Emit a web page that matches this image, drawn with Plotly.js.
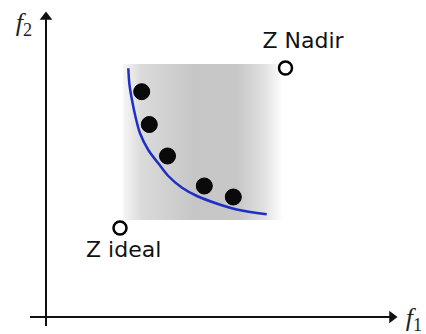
<!DOCTYPE html>
<html>
<head>
<meta charset="utf-8">
<script src="https://cdn.plot.ly/plotly-3.0.1.min.js"></script>
<style>html,body{margin:0;padding:0;background:#fff;}#chart{width:426px;height:334px;}</style>
</head>
<body>
<div id="chart"></div>
<script>
// Objective-space diagram values (f1, f2)
const frontF1 = [8.23, 8.35, 8.6, 8.95, 9.4, 10.23, 11.23, 12.23, 13.57, 15.1, 17.2, 19.07, 22.07];
const frontF2 = [24.87, 23.2, 21.7, 20.03, 18.37, 16.7, 15.37, 14.1, 12.95, 12.1, 11.3, 10.75, 10.27];
const solF1 = [9.57, 10.33, 12.15, 15.83, 18.73];
const solF2 = [22.53, 19.25, 16.1, 13.1, 12.0];
const refNames = ["Z Nadir", "Z ideal"];
const refF1 = [23.95, 7.4];
const refF2 = [24.9, 8.9];
const refLabelF1 = [25.7, 7.77];
const refLabelF2 = [27.5, 6.53];
const regionF1 = [7.7, 23.7];
const regionF2 = [9.7, 25.3];
const axisLabels = ["<i>f</i><sub>1</sub>", "<i>f</i><sub>2</sub>"];
const axisLabelF1 = [36.8, -2.2];
const axisLabelF2 = [-0.2, 29.3];

const traces = [
  {
    x: [regionF1[0], regionF1[1], regionF1[1], regionF1[0], regionF1[0]],
    y: [regionF2[0], regionF2[0], regionF2[1], regionF2[1], regionF2[0]],
    mode: 'lines', line: {width: 0}, fill: 'toself',
    fillgradient: {type: 'horizontal', start: regionF1[0], stop: regionF1[1],
      colorscale: [[0, '#f6f6f6'], [0.12, '#dadada'], [0.45, '#c6c6c6'], [0.72, '#c8c8c8'], [0.88, '#e0e0e0'], [1, '#ffffff']]},
    hoverinfo: 'skip', showlegend: false
  },
  {
    x: frontF1, y: frontF2, mode: 'lines', line: {color: '#1f2fc4', width: 2.5, shape: 'spline', smoothing: 1},
    showlegend: false
  },
  {
    x: solF1, y: solF2, mode: 'markers',
    marker: {size: 16, color: '#0a0a0a', line: {color: '#000', width: 1}}, showlegend: false
  },
  {
    x: refF1, y: refF2, mode: 'markers',
    marker: {size: 13, color: '#fff', line: {color: '#000', width: 2.5}}, showlegend: false
  },
  {
    x: refLabelF1, y: refLabelF2, mode: 'text', text: refNames, textposition: 'middle center',
    textfont: {family: 'DejaVu Sans', size: 22, color: '#111'}, showlegend: false
  },
  {
    x: axisLabelF1, y: axisLabelF2, mode: 'text', text: axisLabels, textposition: 'middle center',
    textfont: {family: 'Liberation Serif', size: 26, color: '#222'}, showlegend: false
  },
  // arrow heads of the two axes
  {
    x: [0], y: [30.0], mode: 'markers',
    marker: {symbol: 'triangle-up', size: 11, color: '#111', line: {width: 0}}, showlegend: false
  },
  {
    x: [34.6], y: [0], mode: 'markers',
    marker: {symbol: 'triangle-right', size: 11, color: '#111', line: {width: 0}}, showlegend: false
  }
];

const xr = [-4.6, 38.0];
const yr = [-1.7, 31.7];

const layout = {
  width: 426, height: 334,
  margin: {l: 0, r: 0, t: 0, b: 0},
  paper_bgcolor: '#fff', plot_bgcolor: '#fff',
  xaxis: {range: xr, visible: false, fixedrange: true},
  yaxis: {range: yr, visible: false, fixedrange: true},
  showlegend: false,
  shapes: [
    {type: 'line', xref: 'x', yref: 'y', x0: 0, x1: 0, y0: -0.9, y1: 29.8, line: {color: '#111', width: 2}},
    {type: 'line', xref: 'x', yref: 'y', x0: -1.6, x1: 34.4, y0: 0, y1: 0, line: {color: '#111', width: 2}}
  ]
};

Plotly.newPlot('chart', traces, layout, {displayModeBar: false, staticPlot: true});
</script>
</body>
</html>
